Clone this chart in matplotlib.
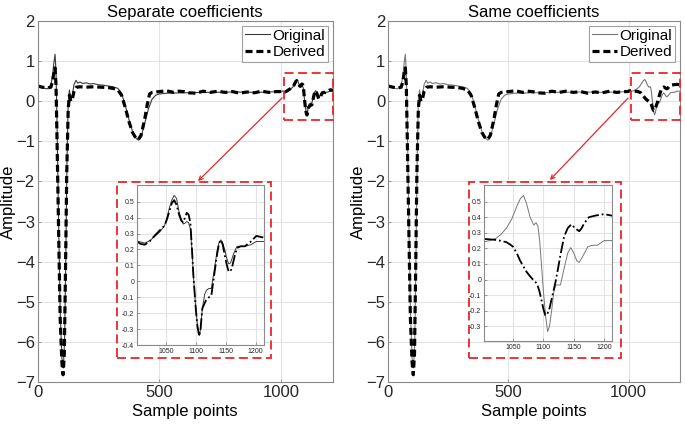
import matplotlib
matplotlib.use('Agg')
import matplotlib.pyplot as plt
from matplotlib.patches import Rectangle

plt.rcParams['font.family'] = ['Liberation Sans', 'DejaVu Sans']

# common part of the signals (0..1000)
orig_x = [0, 20, 40, 55, 62, 67, 72, 76, 80, 86, 93, 100, 106, 111, 116, 121, 126, 131, 137,
          143, 150, 158, 165, 175, 185, 200, 215, 230, 250, 270, 290, 310, 330, 345, 360, 375,
          390, 405, 415, 425, 440, 455, 470, 485, 500, 530, 600, 700, 800, 900, 990]
orig_y = [0.36, 0.33, 0.31, 0.40, 0.65, 0.95, 1.17, 0.75, -0.5, -2.8, -5.2, -6.4, -6.65, -6.0,
          -4.0, -1.5, -0.05, 0.28, 0.05, 0.15, 0.42, 0.52, 0.45, 0.48, 0.44, 0.46, 0.43, 0.44,
          0.41, 0.40, 0.38, 0.36, 0.32, 0.20, -0.10, -0.45, -0.75, -0.93, -0.97, -0.90, -0.55,
          -0.20, 0.05, 0.15, 0.18, 0.20, 0.21, 0.22, 0.23, 0.22, 0.24]

der_x = [0, 20, 40, 55, 62, 67, 72, 76, 80, 86, 93, 100, 105, 110, 115, 120, 126, 131, 137,
         143, 150, 160, 175, 200, 230, 260, 290, 310, 330, 345, 360, 375, 390, 405, 413, 425,
         440, 450, 460, 470, 500, 530, 560, 580, 600, 620, 650, 680, 710, 740, 770, 800, 830,
         860, 890, 920, 950, 980, 995]
der_y = [0.38, 0.35, 0.33, 0.35, 0.50, 0.70, 0.83, 0.40, -0.9, -3.0, -5.4, -6.5, -6.82, -6.3,
         -4.2, -1.8, -0.2, 0.15, 0.0, 0.05, 0.25, 0.35, 0.36, 0.35, 0.36, 0.35, 0.34, 0.32, 0.28,
         0.15, -0.15, -0.50, -0.78, -0.93, -0.96, -0.85, -0.45, -0.10, 0.18, 0.22, 0.24, 0.26,
         0.22, 0.25, 0.24, 0.21, 0.20, 0.25, 0.22, 0.25, 0.22, 0.24, 0.20, 0.23, 0.21, 0.25,
         0.22, 0.24, 0.24]

# zoomed part, separate coefficients
sep_orig_x = [1002, 1010, 1015, 1023, 1031, 1040, 1048, 1052, 1056, 1060, 1064, 1068, 1072,
              1076, 1079, 1082, 1085, 1088, 1091, 1094, 1096, 1100, 1103, 1106, 1108, 1111,
              1115, 1118, 1122, 1126, 1130, 1136, 1139, 1142, 1145, 1149, 1152, 1155, 1158,
              1162, 1165, 1169, 1175, 1182, 1192, 1201, 1213]
sep_orig_y = [0.253, 0.245, 0.24, 0.255, 0.28, 0.31, 0.35, 0.40, 0.46, 0.51, 0.54, 0.52, 0.44,
              0.39, 0.36, 0.365, 0.375, 0.37, 0.33, 0.18, 0.04, -0.17, -0.28, -0.34, -0.30,
              -0.17, -0.08, -0.055, -0.045, -0.045, 0.05, 0.20, 0.245, 0.26, 0.24, 0.19, 0.14,
              0.11, 0.115, 0.16, 0.19, 0.22, 0.22, 0.22, 0.23, 0.25, 0.25]
sep_der_x = [1002, 1008, 1015, 1023, 1031, 1040, 1048, 1052, 1056, 1060, 1064, 1068, 1072,
             1076, 1079, 1082, 1085, 1088, 1091, 1094, 1096, 1100, 1103, 1106, 1108, 1111,
             1117, 1122, 1126, 1130, 1136, 1139, 1142, 1145, 1148, 1152, 1155, 1158, 1160,
             1165, 1169, 1175, 1182, 1192, 1201, 1213]
sep_der_y = [0.25, 0.235, 0.23, 0.25, 0.285, 0.32, 0.35, 0.39, 0.44, 0.49, 0.51, 0.48, 0.42,
             0.38, 0.37, 0.40, 0.43, 0.42, 0.37, 0.18, 0.04, -0.17, -0.29, -0.345, -0.30,
             -0.17, -0.12, -0.10, -0.09, 0.02, 0.18, 0.24, 0.26, 0.23, 0.17, 0.10, 0.06, 0.065,
             0.08, 0.16, 0.21, 0.22, 0.22, 0.25, 0.285, 0.275]

# zoomed part, same coefficients
same_orig_x = [1003, 1012, 1022, 1030, 1039, 1048, 1056, 1062, 1067, 1072, 1078, 1084, 1088,
               1091, 1094, 1097, 1100, 1104, 1107, 1110, 1114, 1117, 1120, 1128, 1134, 1140,
               1145, 1150, 1155, 1159, 1165, 1173, 1180, 1189, 1200, 1213]
same_orig_y = [0.243, 0.25, 0.265, 0.29, 0.33, 0.39, 0.47, 0.52, 0.54, 0.49, 0.40, 0.35, 0.365,
               0.34, 0.24, 0.08, -0.08, -0.25, -0.335, -0.30, -0.185, -0.08, -0.035, -0.035,
               0.07, 0.17, 0.205, 0.17, 0.12, 0.11, 0.15, 0.21, 0.22, 0.22, 0.25, 0.25]
same_der_x = [1003, 1012, 1022, 1030, 1039, 1045, 1050, 1056, 1061, 1066, 1072, 1077, 1081,
              1085, 1089, 1093, 1096, 1100, 1103, 1106, 1110, 1115, 1120, 1124, 1128, 1134,
              1140, 1146, 1152, 1159, 1163, 1167, 1175, 1185, 1200, 1213]
same_der_y = [0.26, 0.258, 0.254, 0.248, 0.24, 0.225, 0.21, 0.17, 0.125, 0.09, 0.05, 0.025,
              0.007, -0.01, -0.025, -0.07, -0.12, -0.19, -0.23, -0.225, -0.185, -0.10, -0.014,
              0.07, 0.157, 0.275, 0.33, 0.354, 0.33, 0.31, 0.33, 0.36, 0.40, 0.41, 0.42, 0.41]

panels = [
    ('Separate coefficients', sep_orig_x, sep_orig_y, sep_der_x, sep_der_y, '#3a3a3a'),
    ('Same coefficients', same_orig_x, same_orig_y, same_der_x, same_der_y, '#777777'),
]
W, H = 685, 430
main_pos = [[37.5, 21, 333, 382], [388, 21, 680, 382]]
ins_pos = [[137, 185, 263.5, 345], [484, 185, 612, 341]]
ins_ylim = [(-0.4, 0.605), (-0.395, 0.607)]
ins_yticks = [[-0.4, -0.3, -0.2, -0.1, 0, 0.1, 0.2, 0.3, 0.4, 0.5],
              [-0.3, -0.2, -0.1, 0, 0.1, 0.2, 0.3, 0.4, 0.5]]
box_pos = [[117, 182, 271, 358], [469, 182, 621, 358]]
arrows = [((284, 96), (196, 183)), ((630, 96), (548, 182))]


def px_rect(p):
    l, t, r, b = p
    return [l / W, 1 - b / H, (r - l) / W, (b - t) / H]


def style(ax, size):
    ax.grid(True, color='#e3e3e3', lw=0.8)
    ax.set_axisbelow(True)
    for s in ax.spines.values():
        s.set_color('#8a8a8a')
        s.set_linewidth(0.8)
    ax.tick_params(direction='in', length=2.5, width=0.6, color='#8a8a8a',
                   labelsize=size, labelcolor='#262626', pad=2)


fig = plt.figure(figsize=(6.85, 4.3), dpi=100)

for i, (title, ox, oy, dx, dy, ocol) in enumerate(panels):
    x_o = orig_x + ox
    y_o = orig_y + oy
    x_d = der_x + dx
    y_d = der_y + dy

    ax = fig.add_axes(px_rect(main_pos[i]))
    ax.plot(x_o, y_o, color=ocol, lw=0.8, label='Original')
    ax.plot(x_d, y_d, color='black', lw=2.3, ls=(0, (2.2, 1.2)), label='Derived')
    ax.set_xlim(0, 1213)
    ax.set_ylim(-7, 2)
    ax.set_xticks([0, 500, 1000])
    ax.set_yticks(range(-7, 3))
    style(ax, 12)
    ax.set_title(title, fontsize=12, pad=3)
    ax.set_xlabel('Sample points', fontsize=12, labelpad=3)
    ax.set_ylabel('Amplitude', fontsize=12, labelpad=0)
    leg = ax.legend(loc='upper right', fontsize=11, handlelength=1.6, handletextpad=0.2,
                    borderpad=0.2, labelspacing=0.15, fancybox=False, borderaxespad=0.3)
    leg.get_frame().set_edgecolor('#8a8a8a')
    leg.get_frame().set_linewidth(0.8)

    ax.add_patch(Rectangle((1010, -0.46), 203, 1.17, fill=False, ec='#e8262a', lw=1.3,
                           ls=(0, (5, 2.5)), zorder=5, clip_on=False))

    ins = fig.add_axes(px_rect(ins_pos[i]))
    ins.plot(ox, oy, color=ocol, lw=0.7)
    ins.plot(dx, dy, color='black', lw=1.3, ls='-.')
    ins.set_xlim(1002, 1213)
    ins.set_ylim(*ins_ylim[i])
    ins.set_xticks([1050, 1100, 1150, 1200])
    ins.set_yticks(ins_yticks[i])
    ins.set_yticklabels(['%g' % v for v in ins_yticks[i]])
    style(ins, 5)

    fig.add_artist(Rectangle(px_rect(box_pos[i])[:2], *px_rect(box_pos[i])[2:], fill=False,
                             ec='#e8262a', lw=1.3, ls=(0, (5, 2.5)),
                             transform=fig.transFigure))
    (x0, y0), (x1, y1) = arrows[i]
    fig.add_artist(matplotlib.patches.FancyArrowPatch(
        (x0 / W, 1 - y0 / H), (x1 / W, 1 - y1 / H), transform=fig.transFigure,
        arrowstyle='->', mutation_scale=7, color='#e8262a', lw=0.9))

fig.savefig('out.png', dpi=100)
